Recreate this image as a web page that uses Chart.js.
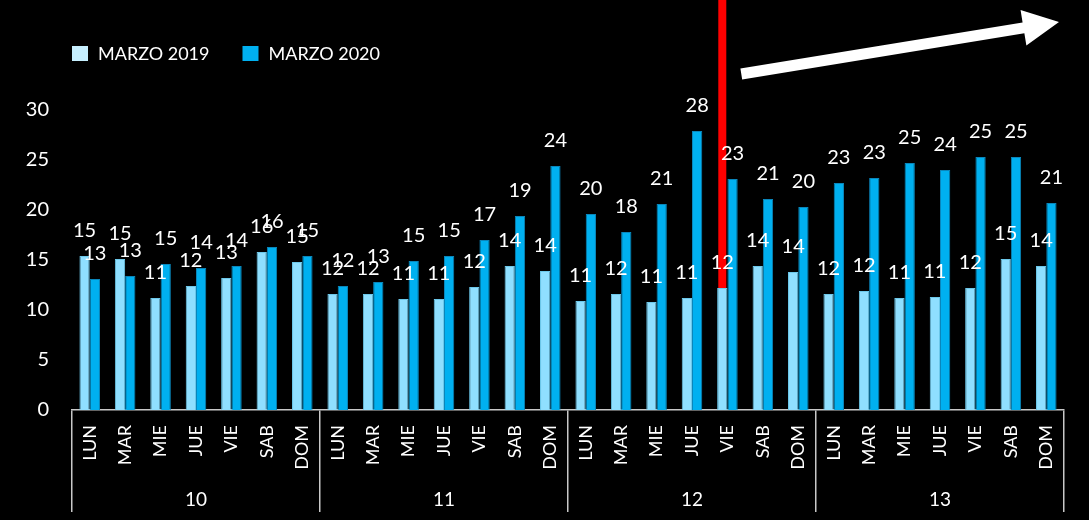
<!DOCTYPE html>
<html>
<head>
<meta charset="utf-8">
<script src="https://cdn.jsdelivr.net/npm/chart.js@4/dist/chart.umd.min.js"></script>
<style>
html,body{margin:0;padding:0;background:#000;}
canvas{display:block;}
</style>
</head>
<body>
<canvas id="c" width="1089" height="520"></canvas>
<script>
// ---- data ----
const weeks = ['10', '11', '12', '13'];
const days = ['LUN', 'MAR', 'MIE', 'JUE', 'VIE', 'SAB', 'DOM'];
const seriesNames = ['MARZO 2019', 'MARZO 2020'];
const marzo2019 = [15.4, 15.1, 11.2, 12.4, 13.2, 15.8, 14.8,
                   11.6, 11.6, 11.1, 11.1, 12.3, 14.4, 13.9,
                   10.9, 11.6, 10.8, 11.2, 12.2, 14.4, 13.8,
                   11.6, 11.9, 11.2, 11.3, 12.2, 15.1, 14.4];
const marzo2020 = [13.1, 13.4, 14.6, 14.2, 14.4, 16.3, 15.4,
                   12.4, 12.8, 14.9, 15.4, 17.0, 19.4, 24.4,
                   19.6, 17.8, 20.6, 27.9, 23.1, 21.1, 20.3,
                   22.7, 23.2, 24.7, 24.0, 25.3, 25.3, 20.7];
const yTicks = [0, 5, 10, 15, 20, 25, 30];
const markIndex = 18; // week 12, VIE

const categories = [];
weeks.forEach(w => days.forEach(d => categories.push(d)));

const LIGHT = '#8fdfff', DARK = '#00b0f0', LEGEND_LIGHT = '#c6effe';
const AXIS = '#c8c8c8';
Chart.defaults.font.family = 'Lato';

const overlay = {
  id: 'overlay',
  afterDatasetsDraw(chart) {
    const ctx = chart.ctx;
    const area = chart.chartArea;
    const m0 = chart.getDatasetMeta(0), m1 = chart.getDatasetMeta(1);
    ctx.save();
    // red marker line
    const rb = m0.data[markIndex];
    ctx.fillStyle = '#ff0000';
    ctx.fillRect(rb.x - 4, 0, 8, rb.y);
    // arrow
    const S = {x: rb.x + 19, y: area.top - 36};
    const T = {x: area.right - 5, y: area.top - 88};
    const dx = T.x - S.x, dy = T.y - S.y, L = Math.hypot(dx, dy);
    const u = {x: dx / L, y: dy / L}, n = {x: -u.y, y: u.x};
    const hl = 36, hw = 18, sh = 5.5;
    const B = {x: T.x - u.x * hl, y: T.y - u.y * hl};
    ctx.fillStyle = '#ffffff';
    ctx.beginPath();
    ctx.moveTo(S.x + n.x * sh, S.y + n.y * sh);
    ctx.lineTo(B.x + n.x * sh, B.y + n.y * sh);
    ctx.lineTo(B.x + n.x * hw, B.y + n.y * hw);
    ctx.lineTo(T.x, T.y);
    ctx.lineTo(B.x - n.x * hw, B.y - n.y * hw);
    ctx.lineTo(B.x - n.x * sh, B.y - n.y * sh);
    ctx.lineTo(S.x - n.x * sh, S.y - n.y * sh);
    ctx.closePath();
    ctx.fill();
    // value labels
    ctx.fillStyle = '#ffffff';
    ctx.font = '20px Lato';
    ctx.textAlign = 'center';
    ctx.textBaseline = 'middle';
    [m0, m1].forEach((meta, di) => {
      const vals = chart.data.datasets[di].data;
      meta.data.forEach((bar, i) => {
        ctx.fillText(String(Math.round(vals[i])), bar.x, bar.y - 25);
      });
    });
    // legend
    ctx.font = '18px Lato';
    ctx.textAlign = 'left';
    let x = area.left;
    const ly = 46;
    const boxColors = [LEGEND_LIGHT, DARK];
    seriesNames.forEach((name, i) => {
      ctx.fillStyle = boxColors[i];
      ctx.fillRect(x, ly, 16, 15);
      ctx.fillStyle = '#ffffff';
      ctx.fillText(name, x + 26, ly + 8);
      x += 26 + ctx.measureText(name).width + 33;
    });
    ctx.restore();
  }
};

new Chart(document.getElementById('c'), {
  type: 'bar',
  data: {
    labels: categories,
    datasets: [
      {label: seriesNames[0], data: marzo2019, backgroundColor: LIGHT, borderColor: '#6cc8ea', borderWidth: 1},
      {label: seriesNames[1], data: marzo2020, backgroundColor: DARK, borderColor: '#0a86bb', borderWidth: 1}
    ]
  },
  options: {
    responsive: false,
    animation: false,
    devicePixelRatio: 1,
    layout: {padding: {top: 110, right: 25, bottom: 0, left: 0}},
    datasets: {bar: {categoryPercentage: 0.58, barPercentage: 1.0}},
    plugins: {legend: {display: false}, tooltip: {enabled: false}},
    scales: {
      x: {
        type: 'category',
        position: 'bottom',
        weight: 0,
        offset: true,
        grid: {
          offset: true, drawOnChartArea: false, drawTicks: true, tickLength: 60, lineWidth: 1.5,
          color: c => (c.index === undefined || c.index % 7 === 0) ? AXIS : 'rgba(0,0,0,0)'
        },
        border: {display: true, color: AXIS, width: 1.5},
        ticks: {color: '#ffffff', font: {size: 18}, minRotation: 90, maxRotation: 90, autoSkip: false, padding: -45},
        afterFit: s => { s.height = 60; }
      },
      x2: {
        type: 'category',
        labels: weeks,
        position: 'bottom',
        weight: 1,
        offset: true,
        grid: {offset: true, drawOnChartArea: false, drawTicks: true, tickLength: 42, lineWidth: 1.5, color: AXIS},
        border: {display: false},
        ticks: {color: '#ffffff', font: {size: 19}, padding: -24},
        afterFit: s => { s.height = 50; }
      },
      y: {
        min: yTicks[0], max: yTicks[yTicks.length - 1],
        afterBuildTicks: s => { s.ticks = yTicks.map(v => ({value: v})); },
        grid: {display: false, drawTicks: false},
        border: {display: false},
        ticks: {color: '#ffffff', font: {size: 20}, padding: 23},
        afterFit: s => { s.width = 72; }
      }
    }
  },
  plugins: [overlay]
});
</script>
</body>
</html>
